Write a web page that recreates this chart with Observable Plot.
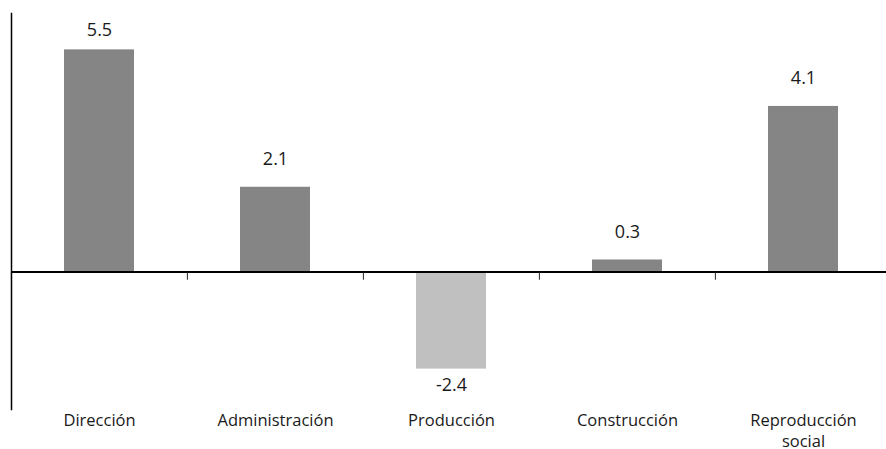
<!DOCTYPE html>
<html>
<head>
<meta charset="utf-8">
<script src="https://cdn.jsdelivr.net/npm/d3@7"></script>
<script src="https://cdn.jsdelivr.net/npm/@observablehq/plot@0.6"></script>
<style>
  html, body { margin: 0; padding: 0; background: #fff; }
</style>
</head>
<body>
<div id="chart"></div>
<script>
// Occupational groups and their values
const categories = ["Dirección", "Administración", "Producción", "Construcción", "Reproducción\nsocial"];
const values = [5.5, 2.1, -2.4, 0.3, 4.1];
const valueLabels = ["5.5", "2.1", "-2.4", "0.3", "4.1"];

const data = categories.map((c, i) => ({ category: c, value: values[i], label: valueLabels[i] }));

const width = 886;
const height = 449;
const xRange = [11, 892];
const step = (xRange[1] - xRange[0]) / categories.length;
const font = "'Open Sans', sans-serif";
const maxValue = d3.max(values);

const chart = Plot.plot({
  width,
  height,
  marginLeft: 11,
  marginRight: 0,
  marginTop: 13,
  marginBottom: 40,
  style: { fontFamily: font, fontSize: "18px", color: "#1a1a1a", background: "#fff", overflow: "visible" },
  x: { domain: categories, range: xRange, paddingInner: 0.6, paddingOuter: 0.3 },
  y: { domain: [-3.4, 6.4], axis: null },
  color: { type: "identity" },
  marks: [
    Plot.barY(data, {
      x: "category",
      y: "value",
      fill: d => (d.value < 0 ? "#c0c0c0" : "#858585")
    }),
    // value labels: above positive bars, below negative ones
    Plot.text(data.filter(d => d.value >= 0 && d.value !== maxValue), {
      x: "category", y: "value", text: "label", lineAnchor: "bottom", dy: -22, fill: "#1a1a1a"
    }),
    Plot.text(data.filter(d => d.value === maxValue), {
      x: "category", y: "value", text: "label", lineAnchor: "bottom", dy: -14, fill: "#1a1a1a"
    }),
    Plot.text(data.filter(d => d.value < 0), {
      x: "category", y: "value", text: "label", lineAnchor: "top", dy: 9, fill: "#1a1a1a"
    }),
    // zero baseline and category boundary ticks
    Plot.ruleY([0], { stroke: "#000", strokeWidth: 2 }),
    Plot.ruleX(categories, { x: d => d, y1: 0, y2: -0.2, dx: -step / 2, stroke: "#222", strokeWidth: 1 }),
    // left axis line
    Plot.frame({ anchor: "left", stroke: "#000", strokeWidth: 1.5 }),
    Plot.axisX({ anchor: "bottom", tickSize: 0, tickPadding: 1, fontSize: 16.5, lineHeight: 1.3, fill: "#1a1a1a", label: null })
  ]
});

document.getElementById("chart").append(chart);
</script>
</body>
</html>
